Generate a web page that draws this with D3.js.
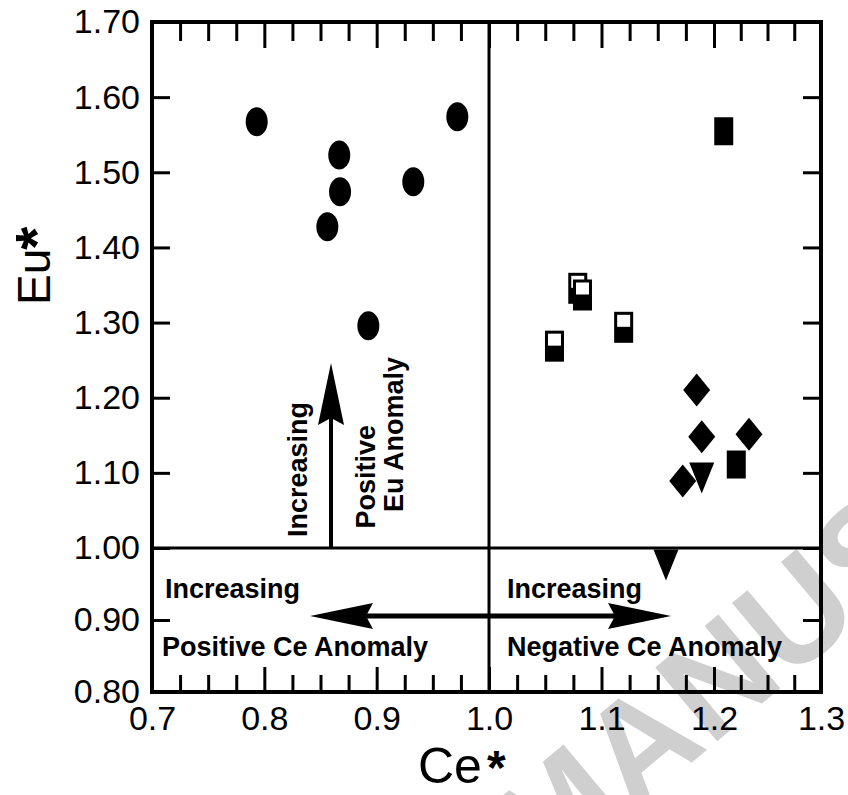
<!DOCTYPE html>
<html><head><meta charset="utf-8">
<script src="https://cdn.jsdelivr.net/npm/d3@7/dist/d3.min.js"></script>
<style>body{margin:0;background:#fff}svg{display:block}text{font-family:"Liberation Sans",Arial,sans-serif}</style>
</head><body>
<svg id="chart" width="848" height="795"></svg>
<script>
// ---- data ----
const circleCe = [0.7932, 0.9718, 0.8667, 0.8674, 0.9326, 0.8561, 0.8926];
const circleEu = [1.5673, 1.574, 1.523, 1.4742, 1.4875, 1.4276, 1.2958];
const halfSquareCe = [1.0582, 1.0789, 1.0831, 1.1197];
const halfSquareEu = [1.2686, 1.3456, 1.3367, 1.2937];
const squareCe = [1.2091, 1.2208];
const squareEu = [1.5546, 1.1111];
const diamondCe = [1.1846, 1.1891, 1.2327, 1.1722];
const diamondEu = [1.2103, 1.1481, 1.1513, 1.0892];
const triangleCe = [1.1891, 1.1573];
const triangleEu = [1.0932, 0.9764];
const xTickLabels = ["0.7", "0.8", "0.9", "1.0", "1.1", "1.2", "1.3"];
const yTickLabels = ["0.80", "0.90", "1.00", "1.10", "1.20", "1.30", "1.40", "1.50", "1.60", "1.70"];

// ---- layout ----
const svg = d3.select("#chart");
const L = 152, R = 821, T = 22, B = 692;
// the printed axes are slightly uneven; piecewise-linear scales follow them
const x = d3.scaleLinear().domain([0.7, 1.0, 1.2, 1.3]).range([L, 489, 714, R]);
const y = d3.scaleLinear().domain([0.8, 1.0, 1.7]).range([B, 548, T]);

// watermark
svg.append("text")
  .attr("transform", "translate(512,850) rotate(-40)")
  .attr("dominant-baseline", "central")
  .attr("font-size", 140).attr("font-weight", "bold")
  .attr("fill", "#cfcfcf")
  .text("MANUSCRIPT");

const xMajor = xTickLabels.map(Number);
const xMinor = d3.range(25).map(i => 0.7 + i * 0.025).filter((d, i) => i % 4 !== 0);
const yMajor = yTickLabels.map(Number);

function styleAxis(g) {
  g.select(".domain").remove();
  g.selectAll(".tick line").attr("stroke", "#000").attr("stroke-width", 3);
}
svg.append("g").attr("transform", `translate(0,${B})`)
  .call(d3.axisBottom(x).tickValues(xMajor).tickSizeInner(-25).tickSizeOuter(0).tickPadding(14).tickFormat(d3.format(".1f")))
  .call(styleAxis)
  .call(g => g.selectAll("text").attr("font-size", 34).attr("fill", "#000").attr("font-family", "Liberation Sans, Arial, sans-serif"));
svg.append("g").attr("transform", `translate(0,${B})`)
  .call(d3.axisBottom(x).tickValues(xMinor).tickSizeInner(-17).tickSizeOuter(0).tickFormat(""))
  .call(styleAxis);
svg.append("g").attr("transform", `translate(0,${T})`)
  .call(d3.axisTop(x).tickValues(xMajor).tickSizeInner(-26).tickSizeOuter(0).tickFormat(""))
  .call(styleAxis);
svg.append("g").attr("transform", `translate(0,${T})`)
  .call(d3.axisTop(x).tickValues(xMinor).tickSizeInner(-19).tickSizeOuter(0).tickFormat(""))
  .call(styleAxis);
svg.append("g").attr("transform", `translate(${L},0)`)
  .call(d3.axisLeft(y).tickValues(yMajor).tickSizeInner(-18).tickSizeOuter(0).tickPadding(12).tickFormat(d3.format(".2f")))
  .call(styleAxis)
  .call(g => g.selectAll("text").attr("font-size", 34).attr("fill", "#000").attr("font-family", "Liberation Sans, Arial, sans-serif"));
svg.append("g").attr("transform", `translate(${R},0)`)
  .call(d3.axisRight(y).tickValues(yMajor).tickSizeInner(-18).tickSizeOuter(0).tickFormat(""))
  .call(styleAxis);

// divider lines
svg.append("line").attr("x1", x(1.0)).attr("x2", x(1.0)).attr("y1", T).attr("y2", B).attr("stroke", "#000").attr("stroke-width", 3);
svg.append("line").attr("x1", L).attr("x2", R).attr("y1", y(1.0)).attr("y2", y(1.0)).attr("stroke", "#000").attr("stroke-width", 3);

// frame
svg.append("rect").attr("x", L).attr("y", T).attr("width", R - L).attr("height", B - T)
  .attr("fill", "none").attr("stroke", "#000").attr("stroke-width", 4);

// ---- markers ----
const pts = (xs, ys) => xs.map((d, i) => ({ x: d, y: ys[i] }));
svg.append("g").selectAll("ellipse").data(pts(circleCe, circleEu)).join("ellipse")
  .attr("cx", d => x(d.x)).attr("cy", d => y(d.y)).attr("rx", 11).attr("ry", 14.5).attr("fill", "#000");

const hs = svg.append("g").selectAll("g").data(pts(halfSquareCe, halfSquareEu)).join("g")
  .attr("transform", d => `translate(${x(d.x)},${y(d.y)})`);
hs.append("rect").attr("x", -9.5).attr("y", -15.5).attr("width", 19).attr("height", 31).attr("fill", "#000");
hs.append("rect").attr("x", -6.5).attr("y", -12.5).attr("width", 13).attr("height", 12).attr("fill", "#fff");

svg.append("g").selectAll("rect").data(pts(squareCe, squareEu)).join("rect")
  .attr("x", d => x(d.x) - 9.5).attr("y", d => y(d.y) - 14).attr("width", 19).attr("height", 28).attr("fill", "#000");

svg.append("g").selectAll("path").data(pts(diamondCe, diamondEu)).join("path")
  .attr("transform", d => `translate(${x(d.x)},${y(d.y)})`)
  .attr("d", "M0,-16.5L13.5,0L0,16.5L-13.5,0Z").attr("fill", "#000");

svg.append("g").selectAll("path").data(pts(triangleCe, triangleEu)).join("path")
  .attr("transform", d => `translate(${x(d.x)},${y(d.y)})`)
  .attr("d", "M-12.5,-15.5L12.5,-15.5L0,15.5Z").attr("fill", "#000");

// ---- arrows ----
const ay = 616;
svg.append("line").attr("x1", 350).attr("x2", 632).attr("y1", ay).attr("y2", ay).attr("stroke", "#000").attr("stroke-width", 5);
svg.append("path").attr("d", `M310,${ay}L373,${ay-13}L366,${ay}L373,${ay+13}Z`).attr("fill", "#000");
svg.append("path").attr("d", `M671,${ay}L608,${ay-13}L615,${ay}L608,${ay+13}Z`).attr("fill", "#000");
const ax = 331;
svg.append("line").attr("x1", ax).attr("x2", ax).attr("y1", y(1.0)).attr("y2", 405).attr("stroke", "#000").attr("stroke-width", 4);
svg.append("path").attr("d", `M${ax},363L${ax-13},425L${ax},418L${ax+13},425Z`).attr("fill", "#000");

// ---- annotations ----
const ann = (tx, ty, s, rot, anchor) => svg.append("text")
  .attr("transform", `translate(${tx},${ty})` + (rot ? ` rotate(${rot})` : ""))
  .attr("text-anchor", anchor || "start")
  .attr("font-size", 27).attr("font-weight", "bold").attr("fill", "#000").text(s);
ann(165, 598, "Increasing");
ann(162, 656, "Positive Ce Anomaly");
ann(507, 598, "Increasing");
ann(507, 656, "Negative Ce Anomaly");
ann(307, 402, "Increasing", -90, "end");
ann(375, 425, "Positive", -90, "end");
ann(403, 357, "Eu Anomaly", -90, "end");

// ---- axis titles ----
svg.append("text").attr("transform", "translate(50,305) rotate(-90)").attr("font-size", 46).attr("fill", "#000").text("Eu");
svg.append("text").attr("transform", "translate(57,250) rotate(-90)").attr("font-size", 60).attr("font-weight", "bold").attr("fill", "#000").text("*");
svg.append("text").attr("transform", "translate(418,783)").attr("font-size", 50).attr("fill", "#000").text("Ce");
svg.append("text").attr("transform", "translate(487,784)").attr("font-size", 48).attr("font-weight", "bold").attr("fill", "#000").text("*");
</script>
</body></html>
